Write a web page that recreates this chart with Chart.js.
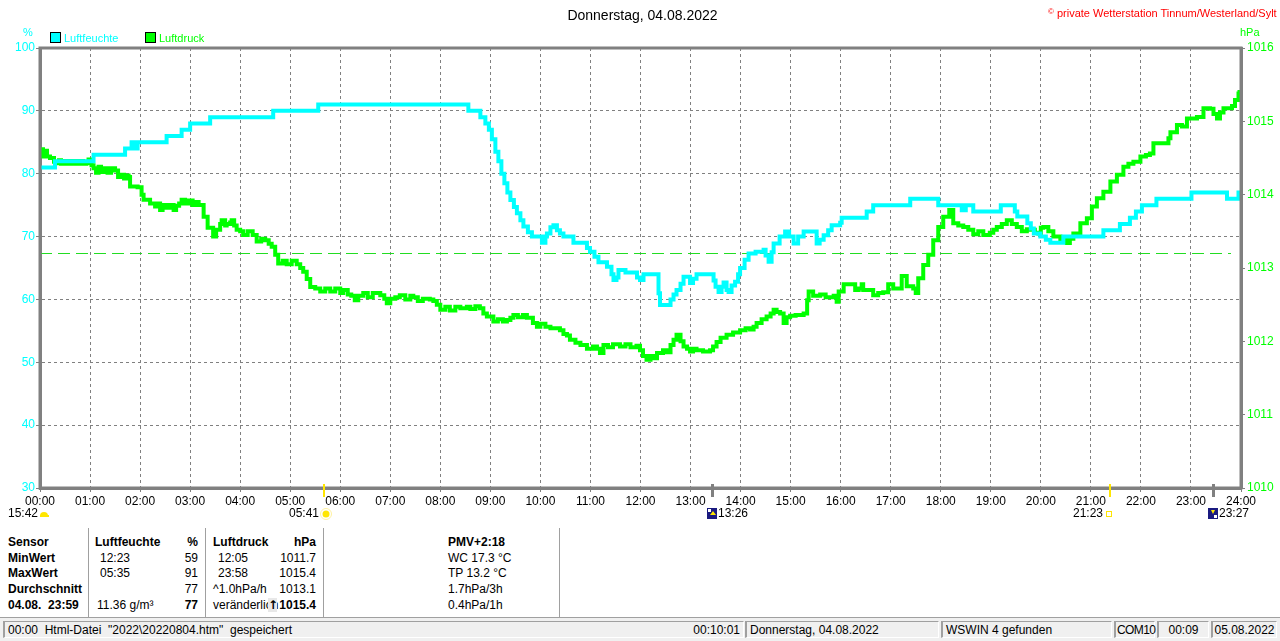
<!DOCTYPE html>
<html>
<head>
<meta charset="utf-8">
<title>Donnerstag, 04.08.2022</title>
<script src="https://cdn.jsdelivr.net/npm/chart.js"></script>
<style>
  body { margin: 0; background: #fff; font: 12px "Liberation Sans", Arial, sans-serif; color: #000; }
  #wrap { position: relative; width: 1280px; height: 641px; overflow: hidden; }
  #chart { position: absolute; left: 0; top: 0; }
  .abs { position: absolute; white-space: nowrap; line-height: 14px; }
  .b { font-weight: bold; }
  .r { text-align: right; }
  .sep { position: absolute; top: 528px; height: 89px; width: 1px; background: #a0a0a0; border-right: 1px solid #fff; }
  .box { position: absolute; top: 32px; width: 9px; height: 9px; border: 1px solid #000; }
  #status { position: absolute; left: 0; top: 617px; width: 1280px; height: 24px; background: #f0f0f0; border-top: 1px solid #a0a0a0; }
  .pan { position: absolute; top: 3px; height: 17px; line-height: 17px; border-left: 2px solid #a0a0a0; border-top: 1px solid #a0a0a0; border-right: 1px solid #fff; border-bottom: 1px solid #fff; padding: 0 3px; box-sizing: border-box; white-space: nowrap; overflow: hidden; }
</style>
</head>
<body>
<div id="wrap">
  <canvas id="chart" width="1280" height="527"></canvas>

  <div class="abs" style="left:0;width:1285px;top:7px;text-align:center;font-size:14px;line-height:16px">Donnerstag, 04.08.2022</div>
  <div class="abs" style="left:1048px;top:5px;color:#ff0000;font-size:11px"><span style="font-size:8px;vertical-align:3px">©</span> private Wetterstation Tinnum/Westerland/Sylt</div>

  <div class="abs" style="left:23px;top:25px;color:#00ffff;font-size:11px">%</div>
  <div class="abs" style="left:1240px;top:25px;color:#00ff00;font-size:11px">hPa</div>

  <div class="box" style="left:50px;background:#00ffff"></div>
  <div class="abs" style="left:64px;top:31px;color:#00ffff;font-size:11px">Luftfeuchte</div>
  <div class="box" style="left:145px;background:#00ff00"></div>
  <div class="abs" style="left:159px;top:31px;color:#00ff00;font-size:11px">Luftdruck</div>

  <!-- table below the chart -->
  <div class="sep" style="left:88px"></div>
  <div class="sep" style="left:205px"></div>
  <div class="sep" style="left:323px"></div>
  <div class="sep" style="left:559px"></div>

  <div class="abs b" style="left:8px;top:535px">Sensor</div>
  <div class="abs b" style="left:8px;top:551px">MinWert</div>
  <div class="abs b" style="left:8px;top:566px">MaxWert</div>
  <div class="abs b" style="left:8px;top:582px">Durchschnitt</div>
  <div class="abs b" style="left:8px;top:598px">04.08.&nbsp; 23:59</div>

  <div class="abs b" style="left:95px;top:535px">Luftfeuchte</div>
  <div class="abs b r" style="left:150px;width:48px;top:535px">%</div>
  <div class="abs" style="left:100px;top:551px">12:23</div>
  <div class="abs r" style="left:150px;width:48px;top:551px">59</div>
  <div class="abs" style="left:100px;top:566px">05:35</div>
  <div class="abs r" style="left:150px;width:48px;top:566px">91</div>
  <div class="abs r" style="left:150px;width:48px;top:582px">77</div>
  <div class="abs" style="left:97px;top:598px">11.36 g/m³</div>
  <div class="abs b r" style="left:150px;width:48px;top:598px">77</div>

  <div class="abs b" style="left:213px;top:535px">Luftdruck</div>
  <div class="abs b r" style="left:260px;width:56px;top:535px">hPa</div>
  <div class="abs" style="left:218px;top:551px">12:05</div>
  <div class="abs r" style="left:260px;width:56px;top:551px">1011.7</div>
  <div class="abs" style="left:218px;top:566px">23:58</div>
  <div class="abs r" style="left:260px;width:56px;top:566px">1015.4</div>
  <div class="abs" style="left:213px;top:582px">^1.0hPa/h</div>
  <div class="abs r" style="left:260px;width:56px;top:582px">1013.1</div>
  <div class="abs" style="left:213px;top:598px">veränderlich</div>
  <div class="abs b" style="left:268px;top:598px;width:9px;background:#e8e8e8;text-align:center;font-family:'DejaVu Sans'">↑</div>
  <div class="abs b r" style="left:270px;width:46px;top:598px">1015.4</div>

  <div class="abs b" style="left:448px;top:535px">PMV+2:18</div>
  <div class="abs" style="left:448px;top:551px">WC 17.3 °C</div>
  <div class="abs" style="left:448px;top:566px">TP 13.2 °C</div>
  <div class="abs" style="left:448px;top:582px">1.7hPa/3h</div>
  <div class="abs" style="left:448px;top:598px">0.4hPa/1h</div>

  <div id="status">
    <div class="pan" style="left:3px;width:741px">00:00&nbsp; Html-Datei&nbsp; "2022\20220804.htm"&nbsp; gespeichert<span style="position:absolute;right:3px">00:10:01</span></div>
    <div class="pan" style="left:745px;width:194px">Donnerstag, 04.08.2022</div>
    <div class="pan" style="left:941px;width:171px">WSWIN 4 gefunden</div>
    <div class="pan" style="left:1114px;width:41px;padding:0 1px;letter-spacing:-0.6px;overflow:visible">COM10</div>
    <div class="pan" style="left:1157px;width:52px;text-align:center">00:09</div>
    <div class="pan" style="left:1211px;width:66px;text-align:center;padding:0 1px">05.08.2022</div>
  </div>
</div>

<script>
// time in hours since midnight, relative humidity in %
const humTimes = [0, 0.3, 1.07, 1.7, 1.83, 1.9, 1.95, 2.53, 2.83, 3.0, 3.4, 4.66, 5.56, 8.56, 8.8, 8.9, 8.97, 9.03, 9.1, 9.16, 9.22, 9.28, 9.34, 9.4, 9.47, 9.53, 9.6, 9.66, 9.75, 9.83, 10.03, 10.1, 10.13, 10.2, 10.26, 10.33, 10.39, 10.46, 10.66, 10.86, 10.93, 10.99, 11.08, 11.16, 11.33, 11.42, 11.46, 11.52, 11.56, 11.7, 11.86, 11.93, 11.99, 12.06, 12.32, 12.36, 12.39, 12.56, 12.6, 12.66, 12.72, 12.8, 12.86, 12.93, 12.99, 13.05, 13.12, 13.39, 13.46, 13.5, 13.56, 13.62, 13.66, 13.72, 13.76, 13.82, 13.89, 13.95, 13.99, 14.08, 14.16, 14.3, 14.46, 14.5, 14.56, 14.62, 14.66, 14.78, 14.89, 14.97, 15.06, 15.15, 15.26, 15.4, 15.52, 15.58, 15.66, 15.75, 15.82, 15.99, 16.02, 16.45, 16.52, 16.65, 17.32, 17.39, 17.92, 17.95, 18.38, 18.42, 18.5, 18.6, 18.65, 19.15, 19.2, 19.42, 19.48, 19.53, 19.73, 19.8, 19.86, 19.99, 20.1, 20.19, 20.38, 20.45, 21.18, 21.25, 21.52, 21.58, 21.78, 21.9, 22.02, 22.31, 22.98, 23.01, 23.65, 23.72, 23.88, 23.95, 24];
const humValues = [81, 82, 83, 84, 85, 84, 85, 86, 87, 88, 89, 90, 91, 90, 89, 88, 87, 85.5, 83.5, 82, 80, 78.5, 77, 75.8, 74.7, 73.7, 72.6, 71.6, 70.7, 70, 69, 70, 70.5, 71.5, 71.8, 71, 70.5, 70, 69, 69, 68.2, 67.6, 66.8, 65.9, 65.2, 64, 63.1, 63.5, 64.7, 64.3, 64.3, 63.5, 63.1, 64, 64, 61, 59.1, 59.1, 60, 60.8, 61.5, 62.5, 63.6, 63.6, 62.6, 63.3, 64, 64, 63, 62, 61.2, 62, 62.7, 61.5, 61.2, 62.2, 62.8, 64, 65, 66.3, 67.3, 67.6, 67.9, 67, 66, 67.5, 68.9, 70, 70.8, 70, 68.9, 70, 70.8, 70.8, 68.9, 69.5, 70.2, 71, 71.8, 72.2, 73, 73, 74, 75, 75, 76, 76, 75, 75, 74.2, 75, 75, 74, 74, 75, 75, 74, 73.2, 72.1, 71.3, 70.5, 70, 69.5, 69, 69, 70, 70, 71, 71, 72, 73, 74, 75, 76, 76, 77, 77, 76, 76, 77, 77];

// time in hours since midnight, air pressure in hPa
const pressTimes = [0, 0.03, 0.06, 0.1, 0.14, 0.2, 0.28, 0.33, 0.38, 0.42, 0.5, 0.55, 0.62, 0.7, 0.78, 0.86, 0.92, 0.97, 1.0, 1.03, 1.07, 1.12, 1.17, 1.22, 1.28, 1.35, 1.42, 1.5, 1.56, 1.62, 1.68, 1.73, 1.77, 1.8, 1.95, 2.03, 2.07, 2.2, 2.3, 2.35, 2.4, 2.45, 2.52, 2.6, 2.67, 2.72, 2.78, 2.83, 2.9, 2.98, 3.05, 3.12, 3.17, 3.27, 3.35, 3.46, 3.52, 3.6, 3.63, 3.7, 3.73, 3.8, 3.83, 3.88, 3.93, 4.0, 4.06, 4.15, 4.25, 4.33, 4.42, 4.5, 4.57, 4.63, 4.7, 4.76, 4.85, 4.93, 5.03, 5.13, 5.2, 5.26, 5.33, 5.4, 5.5, 5.6, 5.7, 5.8, 5.9, 6.0, 6.06, 6.15, 6.22, 6.29, 6.36, 6.46, 6.55, 6.65, 6.8, 6.88, 6.93, 7.0, 7.1, 7.19, 7.3, 7.4, 7.46, 7.55, 7.65, 7.79, 7.86, 7.93, 8.0, 8.1, 8.19, 8.3, 8.4, 8.53, 8.6, 8.7, 8.79, 8.86, 8.93, 9.06, 9.15, 9.25, 9.33, 9.4, 9.46, 9.55, 9.65, 9.73, 9.85, 9.93, 10.0, 10.1, 10.2, 10.39, 10.46, 10.53, 10.59, 10.7, 10.8, 10.93, 11.05, 11.13, 11.19, 11.26, 11.35, 11.45, 11.59, 11.7, 11.8, 11.92, 11.99, 12.05, 12.12, 12.2, 12.26, 12.33, 12.39, 12.45, 12.52, 12.6, 12.66, 12.72, 12.8, 12.86, 12.93, 12.99, 13.05, 13.12, 13.25, 13.39, 13.45, 13.52, 13.6, 13.72, 13.85, 13.99, 14.1, 14.19, 14.26, 14.32, 14.42, 14.52, 14.6, 14.66, 14.72, 14.79, 14.86, 14.92, 14.99, 15.1, 15.26, 15.33, 15.36, 15.45, 15.59, 15.7, 15.79, 15.86, 15.92, 15.96, 16.06, 16.22, 16.29, 16.36, 16.42, 16.45, 16.58, 16.65, 16.75, 16.85, 16.95, 17.05, 17.12, 17.22, 17.32, 17.45, 17.5, 17.55, 17.65, 17.75, 17.85, 17.95, 18.05, 18.17, 18.25, 18.35, 18.45, 18.55, 18.65, 18.75, 18.85, 18.98, 19.05, 19.12, 19.22, 19.32, 19.42, 19.52, 19.62, 19.72, 19.79, 19.88, 19.95, 20.0, 20.05, 20.15, 20.25, 20.39, 20.45, 20.52, 20.58, 20.65, 20.79, 20.92, 21.02, 21.12, 21.25, 21.39, 21.52, 21.65, 21.75, 21.85, 21.99, 22.1, 22.18, 22.25, 22.42, 22.55, 22.59, 22.72, 22.82, 22.92, 23.12, 23.25, 23.38, 23.45, 23.52, 23.58, 23.65, 23.82, 23.88, 23.95, 23.97, 24];
const pressValues = [1014.56, 1014.62, 1014.52, 1014.6, 1014.52, 1014.5, 1014.45, 1014.43, 1014.47, 1014.42, 1014.46, 1014.42, 1014.46, 1014.42, 1014.46, 1014.42, 1014.45, 1014.48, 1014.43, 1014.4, 1014.36, 1014.3, 1014.38, 1014.31, 1014.36, 1014.3, 1014.36, 1014.33, 1014.24, 1014.27, 1014.22, 1014.26, 1014.24, 1014.11, 1014.1, 1014.0, 1013.93, 1013.88, 1013.84, 1013.88, 1013.79, 1013.86, 1013.82, 1013.86, 1013.79, 1013.85, 1013.88, 1013.93, 1013.88, 1013.92, 1013.86, 1013.9, 1013.86, 1013.7, 1013.55, 1013.43, 1013.52, 1013.6, 1013.65, 1013.58, 1013.6, 1013.62, 1013.65, 1013.58, 1013.52, 1013.5, 1013.45, 1013.5, 1013.45, 1013.36, 1013.4, 1013.38, 1013.33, 1013.29, 1013.18, 1013.06, 1013.1, 1013.05, 1013.1, 1013.05, 1013.0, 1012.95, 1012.85, 1012.74, 1012.72, 1012.68, 1012.72, 1012.68, 1012.72, 1012.66, 1012.7, 1012.64, 1012.62, 1012.56, 1012.62, 1012.66, 1012.6, 1012.66, 1012.63, 1012.58, 1012.52, 1012.58, 1012.6, 1012.63, 1012.57, 1012.62, 1012.6, 1012.55, 1012.58, 1012.57, 1012.55, 1012.5, 1012.43, 1012.47, 1012.42, 1012.47, 1012.45, 1012.47, 1012.44, 1012.48, 1012.45, 1012.38, 1012.34, 1012.27, 1012.3, 1012.27, 1012.29, 1012.32, 1012.36, 1012.33, 1012.36, 1012.32, 1012.25, 1012.2, 1012.24, 1012.2, 1012.18, 1012.15, 1012.1, 1012.08, 1012.02, 1011.98, 1011.95, 1011.9, 1011.93, 1011.9, 1011.84, 1011.95, 1011.92, 1011.96, 1011.93, 1011.96, 1011.92, 1011.94, 1011.88, 1011.8, 1011.75, 1011.8, 1011.77, 1011.84, 1011.84, 1011.88, 1011.85, 1011.95, 1012.02, 1012.09, 1012.0, 1011.93, 1011.9, 1011.86, 1011.9, 1011.88, 1011.86, 1011.88, 1011.93, 1011.99, 1012.05, 1012.09, 1012.12, 1012.15, 1012.18, 1012.16, 1012.2, 1012.25, 1012.3, 1012.34, 1012.38, 1012.43, 1012.4, 1012.38, 1012.25, 1012.33, 1012.35, 1012.36, 1012.38, 1012.56, 1012.68, 1012.62, 1012.64, 1012.6, 1012.6, 1012.62, 1012.54, 1012.68, 1012.78, 1012.78, 1012.7, 1012.72, 1012.78, 1012.7, 1012.7, 1012.63, 1012.66, 1012.67, 1012.78, 1012.72, 1012.72, 1012.89, 1012.75, 1012.72, 1012.66, 1012.86, 1013.04, 1013.18, 1013.38, 1013.56, 1013.7, 1013.79, 1013.61, 1013.58, 1013.56, 1013.52, 1013.46, 1013.5, 1013.45, 1013.48, 1013.52, 1013.56, 1013.6, 1013.65, 1013.6, 1013.56, 1013.5, 1013.53, 1013.52, 1013.48, 1013.47, 1013.55, 1013.56, 1013.5, 1013.43, 1013.38, 1013.4, 1013.34, 1013.4, 1013.47, 1013.61, 1013.68, 1013.84, 1013.95, 1014.04, 1014.18, 1014.27, 1014.38, 1014.42, 1014.45, 1014.52, 1014.54, 1014.56, 1014.7, 1014.7, 1014.77, 1014.85, 1014.95, 1014.93, 1015.04, 1015.06, 1015.18, 1015.17, 1015.1, 1015.04, 1015.12, 1015.18, 1015.21, 1015.29, 1015.38, 1015.4, 1015.35];

const refPressure = 1013.2;

// sun / moon events under the time axis
const eventTimes = [5.683, 13.433, 21.383, 23.45];
const eventLabels = ['05:41', '13:26', '21:23', '23:27'];
const startLabel = '15:42';

const hourTicks = [0, 24, 1];
const humTicks = [30, 100, 10];
const pressTicks = [1010, 1016, 1];

function toPoints(xs, ys) {
  return xs.map((t, i) => ({ x: t, y: ys[i] }));
}

const decorations = {
  id: 'decorations',
  beforeDatasetsDraw(chart) {
    const { ctx, chartArea } = chart;
    const y = chart.scales.yP.getPixelForValue(refPressure);
    ctx.save();
    ctx.strokeStyle = '#22dd22';
    ctx.lineWidth = 1;
    ctx.setLineDash([12, 6]);
    ctx.beginPath();
    ctx.moveTo(chartArea.left, Math.round(y) + 0.5);
    ctx.lineTo(chartArea.right - 10, Math.round(y) + 0.5);
    ctx.stroke();
    ctx.restore();
  },
  afterDatasetsDraw(chart) {
    const { ctx, chartArea: a } = chart;
    ctx.save();
    ctx.strokeStyle = '#808080';
    ctx.lineWidth = 3;
    ctx.strokeRect(a.left, a.top, a.right - a.left, a.bottom - a.top);
    ctx.restore();
  },
  afterDraw(chart) {
    const { ctx, chartArea: a } = chart;
    const x = chart.scales.x;
    ctx.save();
    ctx.font = '12px "Liberation Sans", Arial, sans-serif';
    ctx.textBaseline = 'middle';
    const ty = 514;

    // start label with small cloud-like mark
    ctx.fillStyle = '#000';
    ctx.textAlign = 'right';
    ctx.fillText(startLabel, a.left - 2, ty);
    ctx.fillStyle = '#ffe600';
    ctx.beginPath();
    ctx.arc(a.left + 4, ty + 2, 4, Math.PI, 0);
    ctx.fill();
    ctx.fillRect(a.left, ty + 1, 9, 2);

    eventTimes.forEach((t, i) => {
      const px = Math.round(x.getPixelForValue(t));
      const moon = (i === 1 || i === 3);
      ctx.fillStyle = moon ? '#808080' : '#ffe600';
      ctx.fillRect(px - 1, a.bottom - 4, moon ? 3 : 2, 13);

      if (i === 0) { // sun
        ctx.fillStyle = '#000';
        ctx.textAlign = 'right';
        ctx.fillText(eventLabels[i], px - 5, ty);
        ctx.fillStyle = '#ffe600';
        ctx.beginPath();
        ctx.arc(px + 2, ty, 3.5, 0, Math.PI * 2);
        ctx.fill();
        ctx.strokeStyle = '#fff2a0';
        ctx.lineWidth = 1;
        ctx.beginPath();
        ctx.arc(px + 2, ty, 5.5, 0, Math.PI * 2);
        ctx.stroke();
      } else if (i === 2) { // small square
        ctx.fillStyle = '#000';
        ctx.textAlign = 'right';
        ctx.fillText(eventLabels[i], px - 7, ty);
        ctx.strokeStyle = '#ffe600';
        ctx.lineWidth = 1;
        ctx.strokeRect(px - 3.5, ty - 2.5, 5, 5);
      } else { // moon icons
        ctx.fillStyle = '#1a1a80';
        ctx.fillRect(px - 5, ty - 6, 10, 11);
        ctx.fillStyle = '#ffe600';
        ctx.beginPath();
        if (i === 1) {
          ctx.moveTo(px + 1, ty - 3); ctx.lineTo(px + 4, ty + 1); ctx.lineTo(px - 2, ty + 1);
        } else {
          ctx.moveTo(px - 2, ty - 4); ctx.lineTo(px + 2, ty - 4); ctx.lineTo(px, ty);
        }
        ctx.fill();
        ctx.fillStyle = '#fff';
        ctx.fillRect(i === 1 ? px - 4 : px + 1, i === 1 ? ty - 5 : ty + 1, 3, 3);
        ctx.fillStyle = '#000';
        ctx.textAlign = 'left';
        ctx.fillText(eventLabels[i], px + 6, ty);
      }
    });
    ctx.restore();
  }
};

Chart.defaults.font.family = '"Liberation Sans", Arial, sans-serif';
Chart.defaults.font.size = 12;

new Chart(document.getElementById('chart'), {
  type: 'line',
  data: {
    datasets: [
      {
        label: 'Luftfeuchte',
        data: toPoints(humTimes, humValues),
        yAxisID: 'yH',
        borderColor: '#00ffff',
        borderWidth: 4,
        stepped: true,
        pointRadius: 0,
        fill: false
      },
      {
        label: 'Luftdruck',
        data: toPoints(pressTimes, pressValues),
        yAxisID: 'yP',
        borderColor: '#00ff00',
        borderWidth: 4,
        stepped: true,
        pointRadius: 0,
        fill: false
      }
    ]
  },
  options: {
    responsive: false,
    animation: false,
    devicePixelRatio: 1,
    layout: { padding: { top: 48, left: 0, right: 0, bottom: 0 } },
    plugins: { legend: { display: false }, tooltip: { enabled: false } },
    scales: {
      x: {
        type: 'linear',
        min: hourTicks[0],
        max: hourTicks[1],
        afterFit(s) { s.height = 39; },
        ticks: {
          stepSize: hourTicks[2],
          autoSkip: false,
          maxRotation: 0,
          color: '#000',
          padding: 2,
          callback: v => String(v).padStart(2, '0') + ':00'
        },
        grid: { color: '#808080', tickLength: 4, lineWidth: 1 },
        border: { display: true, color: '#808080', width: 3, dash: [3, 3] }
      },
      yH: {
        position: 'left',
        min: humTicks[0],
        max: humTicks[1],
        afterFit(s) { s.width = 40; },
        ticks: { stepSize: humTicks[2], color: '#00ffff', padding: 1, callback: v => String(v) },
        grid: { color: '#808080', tickLength: 4, lineWidth: 1 },
        border: { display: true, color: '#808080', width: 3, dash: [3, 3] }
      },
      yP: {
        position: 'right',
        min: pressTicks[0],
        max: pressTicks[1],
        afterFit(s) { s.width = 39; },
        ticks: { stepSize: pressTicks[2], color: '#00ff00', padding: 2, callback: v => String(v) },
        grid: { drawOnChartArea: false, color: '#808080', tickLength: 4 },
        border: { display: true, color: '#808080', width: 3 }
      }
    }
  },
  plugins: [decorations]
});
</script>
</body>
</html>
